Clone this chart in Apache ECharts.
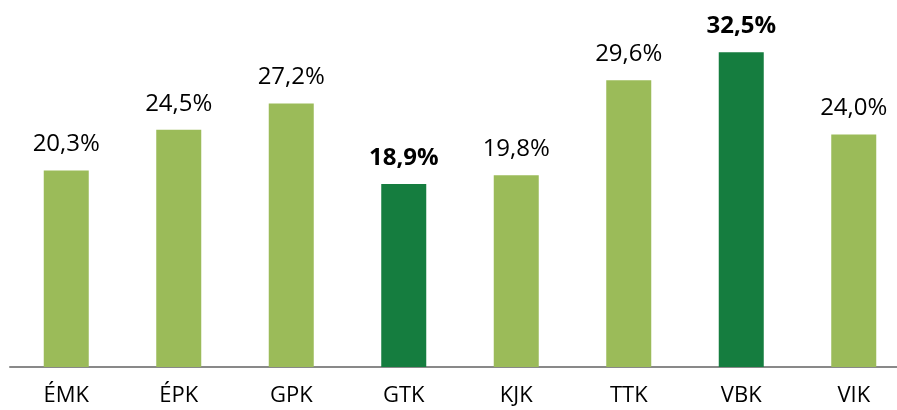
<!DOCTYPE html>
<html>
<head>
<meta charset="utf-8">
<script src="https://cdn.jsdelivr.net/npm/echarts@6/dist/echarts.min.js"></script>
<style>
  html, body { margin: 0; padding: 0; background: #fff; }
  #chart { width: 897px; height: 410px; }
</style>
</head>
<body>
<div id="chart"></div>
<script>
const categories = ['ÉMK', 'ÉPK', 'GPK', 'GTK', 'KJK', 'TTK', 'VBK', 'VIK'];
const values = [20.3, 24.5, 27.2, 18.9, 19.8, 29.6, 32.5, 24.0];
const highlighted = ['GTK', 'VBK'];

const lightGreen = '#9BBB59';
const darkGreen = '#157D3F';
const fontFamily = '"Open Sans", Lato, sans-serif';

const chart = echarts.init(document.getElementById('chart'));

const data = values.map((v, i) => {
  const hl = highlighted.includes(categories[i]);
  return {
    value: v,
    itemStyle: {color: hl ? darkGreen : lightGreen},
    label: {fontWeight: hl ? 'bold' : 'normal'}
  };
});

chart.setOption({
  animation: false,
  grid: {
    left: 10, top: 28, width: 900, bottom: 43,
    containLabel: false,
    outerBoundsMode: 'none'
  },
  xAxis: {
    type: 'category',
    data: categories,
    axisLine: {lineStyle: {color: '#898989', width: 2}},
    axisTick: {show: false},
    axisLabel: {
      color: '#000',
      fontSize: 22,
      fontFamily: fontFamily,
      margin: 18
    }
  },
  yAxis: {
    type: 'value',
    min: 0,
    max: 35,
    show: false,
    splitLine: {show: false}
  },
  series: [{
    type: 'bar',
    data: data,
    barWidth: 45,
    label: {
      show: true,
      position: 'top',
      distance: 14,
      color: '#000',
      fontSize: 24,
      fontFamily: fontFamily,
      formatter: p => p.value.toFixed(1).replace('.', ',') + '%'
    }
  }]
});
</script>
</body>
</html>
